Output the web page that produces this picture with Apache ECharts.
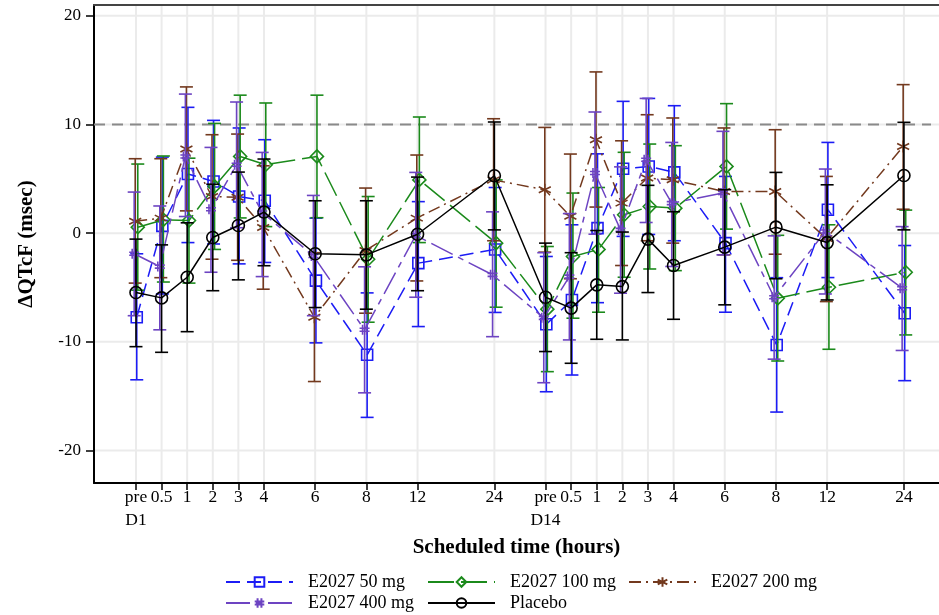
<!DOCTYPE html>
<html><head><meta charset="utf-8">
<script src="https://cdn.jsdelivr.net/npm/echarts@6/dist/echarts.min.js"></script>
<style>html,body{margin:0;padding:0;background:#fff}#c{width:939px;height:615px}</style>
</head><body><div id="c"></div>
<script>
// Scheduled times (tick labels) and their positions on the transformed time axis
const timeLabels = ['pre\nD1','0.5','1','2','3','4','6','8','12','24','pre\nD14','0.5','1','2','3','4','6','8','12','24'];
const timePositions = [0,1,2,3,4,5,7,9,11,14,16,17,18,19,20,21,23,25,27,30];
const yTicks = [-20,-10,0,10,20];
const refLine = 10;

// E2027 50 mg
const mean50 = [-7.74,0.67,5.44,4.76,3.37,2.98,-4.37,-11.2,-2.76,-1.5,-8.39,-6.15,0.46,5.93,6.14,5.59,-0.92,-10.3,2.15,-7.37];
const lo50   = [-13.5,-5.6,-0.87,-1.0,-2.83,-2.7,-10.1,-16.96,-8.6,-7.3,-14.6,-13.06,-6.4,-0.3,-0.12,-0.7,-7.28,-16.47,-4.09,-13.58];
const hi50   = [-1.9,7.0,11.58,10.38,9.68,8.6,1.38,-5.5,2.9,4.2,-2.15,0.77,7.3,12.13,12.4,11.73,5.22,-4.1,8.35,-1.14];
// E2027 100 mg
const mean100 = [0.55,1.23,1.16,4.3,7.06,6.3,7.06,-2.4,4.9,-0.92,-7.0,-2.15,-1.5,1.69,2.45,2.3,6.14,-6.0,-4.98,-3.6];
const lo100   = [-5.25,-4.5,-4.6,-1.5,1.4,0.6,1.42,-8.2,-0.87,-6.82,-12.75,-7.83,-7.28,-4.06,-3.3,-3.45,0.37,-11.77,-10.69,-9.37];
const hi100   = [6.36,7.1,6.9,10.1,12.7,11.98,12.7,3.37,10.69,4.9,-1.23,3.69,4.2,7.44,8.2,8.05,11.92,-0.2,0.77,2.12];
// E2027 200 mg
const mean200 = [1.1,1.38,7.74,3.37,3.3,0.52,-7.74,-1.6,1.38,4.9,3.99,1.55,8.6,2.76,5.07,4.91,3.84,3.84,-0.5,7.98];
const lo200   = [-4.6,-4.1,2.05,-2.4,-2.5,-5.16,-13.66,-7.37,-4.4,-0.7,-1.75,-4.2,2.4,-2.98,-0.7,-0.92,-2.0,-1.94,-6.3,2.2];
const hi200   = [6.85,6.85,13.46,9.06,9.12,6.2,-1.8,4.15,7.19,10.53,9.73,7.28,14.84,8.5,10.9,10.6,9.68,9.52,5.22,13.67];
// E2027 400 mg
const mean400 = [-1.9,-3.08,7.06,2.2,6.3,1.9,-2.1,-8.9,-0.2,-3.84,-7.8,-4.0,5.53,0.3,6.76,2.76,3.69,-5.9,0.15,-5.07];
const lo400   = [-7.6,-8.9,1.53,-3.6,0.5,-4.0,-7.6,-14.7,-5.9,-9.53,-13.77,-9.83,-0.1,-5.53,0.98,-3.07,-2.0,-11.6,-5.6,-10.8];
const hi400   = [3.78,2.5,12.8,7.89,12.07,7.43,3.47,-3.1,5.59,1.96,-1.8,1.8,11.15,6.1,12.4,8.35,9.37,-0.25,5.9,0.6];
// Placebo
const meanPbo = [-5.47,-5.96,-4.06,-0.4,0.7,1.94,-1.9,-2.0,-0.1,5.28,-5.9,-6.9,-4.76,-4.92,-0.55,-2.98,-1.29,0.55,-0.87,5.31];
const loPbo   = [-10.45,-10.97,-9.07,-5.3,-4.3,-3.0,-6.85,-7.0,-5.3,0.3,-10.9,-11.98,-9.77,-9.83,-5.47,-7.93,-6.6,-4.2,-6.15,0.3];
const hiPbo   = [-0.55,-1.08,0.95,4.5,5.62,6.82,2.98,2.98,5.16,10.23,-0.92,-1.8,0.24,0.1,4.4,1.97,4.0,5.59,4.45,10.2];

const FONT = 'Liberation Serif';
const groups = [
  {name:'E2027 50 mg', mean:mean50, lo:lo50, hi:hi50, color:'#1c1cf5', dash:[14,7], symbol:'rect', size:11, off:0.03, leg:[225,573]},
  {name:'E2027 100 mg', mean:mean100, lo:lo100, hi:hi100, color:'#1b8a1b', dash:[26,7], symbol:'diamond', size:13, off:0.07, leg:[427,573]},
  {name:'E2027 200 mg', mean:mean200, lo:lo200, hi:hi200, color:'#73391e', dash:[12,5,2,5], symbol:'path://M5,0L5,10M0.7,2.5L9.3,7.5M0.7,7.5L9.3,2.5', size:12, off:-0.03, leg:[628,573]},
  {name:'E2027 400 mg', mean:mean400, lo:lo400, hi:hi400, color:'#6d44c2', dash:[24,6,6,6], symbol:'path://M3,0L3,10M7,0L7,10M0,3.5L10,3.5M0,6.5L10,6.5', size:10, off:-0.07, leg:[225,594]},
  {name:'Placebo', mean:meanPbo, lo:loPbo, hi:hiPbo, color:'#000000', dash:'solid', symbol:'circle', size:12, off:0, leg:[427,594]}
];

function errRender(color){
  return function(params, api){
    const x = api.value(0), lo = api.value(1), hi = api.value(2);
    const a = api.coord([x, lo]), b = api.coord([x, hi]);
    const w = 6.5;
    const st = {stroke: color, lineWidth: 1.6, fill: null};
    return {type:'group', children:[
      {type:'line', shape:{x1:a[0],y1:a[1],x2:b[0],y2:b[1]}, style:st},
      {type:'line', shape:{x1:a[0]-w,y1:a[1],x2:a[0]+w,y2:a[1]}, style:st},
      {type:'line', shape:{x1:b[0]-w,y1:b[1],x2:b[0]+w,y2:b[1]}, style:st}
    ]};
  };
}

const series = [];
series.push({type:'custom', name:'vgrid', silent:true, z:0,
  data: timePositions.map(p=>[p,0]),
  renderItem:(params, api)=>{
    const cs = params.coordSys; const x = api.coord([api.value(0),0])[0];
    return {type:'line', shape:{x1:x,y1:cs.y,x2:x,y2:cs.y+cs.height}, style:{stroke:'#ebebeb', lineWidth:2}};
  }});
series.push({type:'custom', name:'hgrid', silent:true, z:0,
  data: yTicks.map(v=>[0,v]),
  renderItem:(params, api)=>{
    const cs = params.coordSys; const y = api.coord([0,api.value(1)])[1];
    return {type:'line', shape:{x1:cs.x,y1:y,x2:cs.x+cs.width,y2:y}, style:{stroke:'#ebebeb', lineWidth:2}};
  }});
series.push({type:'custom', name:'ref', silent:true, z:1,
  data: [[0,refLine]],
  renderItem:(params, api)=>{
    const cs = params.coordSys; const y = api.coord([0,api.value(1)])[1];
    return {type:'line', shape:{x1:cs.x,y1:y,x2:cs.x+cs.width-8,y2:y}, style:{stroke:'#8a8a8a', lineWidth:2, lineDash:[11,7]}};
  }});

groups.forEach((g, k)=>{
  series.push({type:'custom', name:'err'+k, z:2+k*2, clip:true,
    data: timePositions.map((p,i)=>[p+g.off, g.lo[i], g.hi[i]]),
    encode:{x:0, y:[1,2]},
    renderItem: errRender(g.color)});
  series.push({type:'line', name:g.name, z:3+k*2,
    data: timePositions.map((p,i)=>[p+g.off, g.mean[i]]),
    symbol:g.symbol, symbolSize:g.size, showSymbol:true,
    itemStyle:{color:'rgba(255,255,255,0)', borderColor:g.color, borderWidth:1.6},
    lineStyle:{color:g.color, width:1.5, type:g.dash},
    emphasis:{disabled:true}});
});

const legends = groups.map(g=>({
  left:g.leg[0], top:g.leg[1], itemWidth:67, itemHeight:12, padding:0,
  data:[g.name],
  textStyle:{fontFamily:FONT, fontSize:18, color:'#000', padding:[0,0,0,10]}
}));

const chart = echarts.init(document.getElementById('c'), null, {renderer:'canvas'});
chart.setOption({
  animation:false,
  backgroundColor:'#fff',
  grid:{left:94, right:0, top:5, bottom:132, containLabel:false},
  xAxis:[{
    type:'value', min:-1.64, max:31.37, position:'bottom',
    axisLine:{show:true, onZero:false, lineStyle:{color:'#000', width:2}},
    axisTick:{show:true, customValues:timePositions, length:7, lineStyle:{color:'#000', width:1.5}},
    axisLabel:{customValues:timePositions, formatter:(v)=>{const i=timePositions.indexOf(Math.round(v)); return i>=0?timeLabels[i]:'';},
      fontFamily:FONT, fontSize:17.5, color:'#000', lineHeight:23, margin:3},
    splitLine:{show:false},
    name:'Scheduled time (hours)', nameLocation:'middle', nameGap:52,
    nameTextStyle:{fontFamily:FONT, fontWeight:'bold', fontSize:21, color:'#000'}
  },{
    type:'value', min:-1.64, max:31.37, position:'top',
    axisLine:{show:true, onZero:false, lineStyle:{color:'#444', width:2}},
    axisTick:{show:false}, axisLabel:{show:false}, splitLine:{show:false}
  }],
  yAxis:{
    type:'value', min:-23, max:21,
    axisLine:{show:true, onZero:false, lineStyle:{color:'#000', width:2}},
    axisTick:{show:true, customValues:yTicks, length:8, lineStyle:{color:'#000', width:1.5}},
    axisLabel:{customValues:yTicks, fontFamily:FONT, fontSize:17, color:'#000', margin:13},
    splitLine:{show:false},
    name:'ΔQTcF (msec)', nameLocation:'middle', nameGap:57,
    nameTextStyle:{fontFamily:FONT, fontWeight:'bold', fontSize:21, color:'#000'}
  },
  legend: legends,
  series: series
});
</script></body></html>
